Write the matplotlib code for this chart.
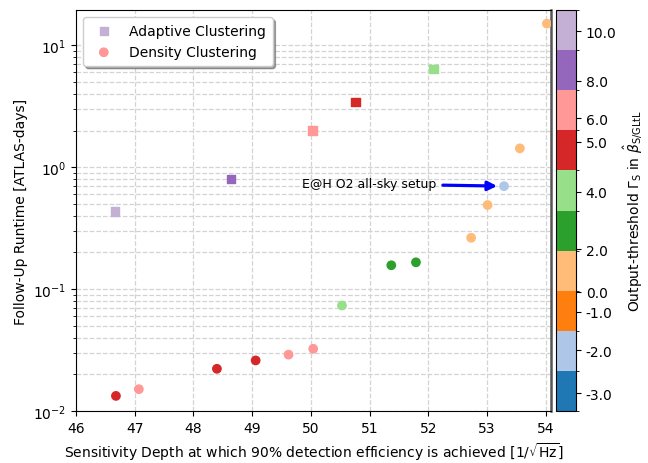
import numpy as np
import matplotlib
matplotlib.use('Agg')
import matplotlib.pyplot as plt
from matplotlib.colors import ListedColormap, BoundaryNorm
from matplotlib.cm import ScalarMappable

# Output thresholds shown on the colour bar (one colour each)
gamma_levels = [-3, -2, -1, 0, 2, 4, 5, 6, 8, 10]

# Adaptive clustering runs
adaptive_depth = [46.66, 48.64, 50.03, 50.76, 52.09]
adaptive_runtime = [0.434, 0.80, 2.0, 3.43, 6.4]
adaptive_gamma = [10, 8, 6, 5, 4]

# Density clustering runs
density_depth = [47.07, 46.68, 48.40, 49.06, 49.62, 50.04, 50.53,
                 51.37, 51.79, 52.73, 53.01, 53.29, 53.56, 54.02]
density_runtime = [0.0151, 0.0133, 0.0222, 0.026, 0.029, 0.0324, 0.0734,
                   0.157, 0.166, 0.264, 0.49, 0.70, 1.43, 15.1]
density_gamma = [6, 5, 5, 5, 6, 6, 4, 2, 2, 0, 0, -2, 0, 0]

# E@H O2 all-sky setup point
eah_depth = 53.29
eah_runtime = 0.70

# where the tick labels sit inside the colour bands (band index units)
cbar_tick_pos = [0.44, 1.51, 2.47, 2.97, 4.03, 5.47, 6.71, 7.30, 8.24, 9.47]


def main():
    cmap = ListedColormap(plt.get_cmap('tab20').colors[:len(gamma_levels)])
    norm = BoundaryNorm(np.arange(len(gamma_levels) + 1), cmap.N)

    def colors_for(gammas):
        idx = [gamma_levels.index(g) + 0.5 for g in gammas]
        return cmap(norm(idx))

    fig = plt.figure(figsize=(6.48, 4.64), dpi=100)
    ax = fig.add_axes([0.1173, 0.1121, 0.733, 0.864])
    cax = fig.add_axes([0.858, 0.1121, 0.0309, 0.864])

    ax.scatter(adaptive_depth, adaptive_runtime, marker='s',
               c=colors_for(adaptive_gamma), label='Adaptive Clustering', zorder=3)
    ax.scatter(density_depth, density_runtime, marker='o',
               c=colors_for(density_gamma), label='Density Clustering', zorder=3)

    ax.annotate('E@H O2 all-sky setup', xy=(eah_depth, eah_runtime),
                xytext=(52.13, 0.73), ha='right', va='center', fontsize=9,
                arrowprops=dict(arrowstyle='-|>,head_length=0.6,head_width=0.3',
                                color='blue', lw=2.3, shrinkA=3, shrinkB=5))

    ax.set_yscale('log')
    ax.set_xlim(46, 54.09)
    ax.set_ylim(0.01, 19.5)
    ax.set_xticks(range(46, 55))
    ax.grid(True, which='both', ls='--', color='#d3d3d3', lw=0.9)
    ax.set_axisbelow(True)
    ax.spines['right'].set_color('#555555')
    ax.spines['right'].set_linewidth(1.8)

    ax.set_xlabel(r'Sensitivity Depth at which 90% detection efficiency is achieved [1/$\sqrt{\rm Hz}$]')
    ax.set_ylabel('Follow-Up Runtime [ATLAS-days]')
    ax.legend(loc='upper left', shadow=True, fontsize=10, borderpad=0.5)

    cbar = fig.colorbar(ScalarMappable(norm=norm, cmap=cmap), cax=cax)
    cbar.set_ticks(cbar_tick_pos)
    cbar.set_ticklabels(['%.1f' % g for g in gamma_levels])
    cbar.set_label(r'Output-threshold $\Gamma_{\rm S}$ in $\hat{\beta}_{\rm S/GLtL}$')

    fig.savefig('out.png', dpi=100)


if __name__ == '__main__':
    main()
